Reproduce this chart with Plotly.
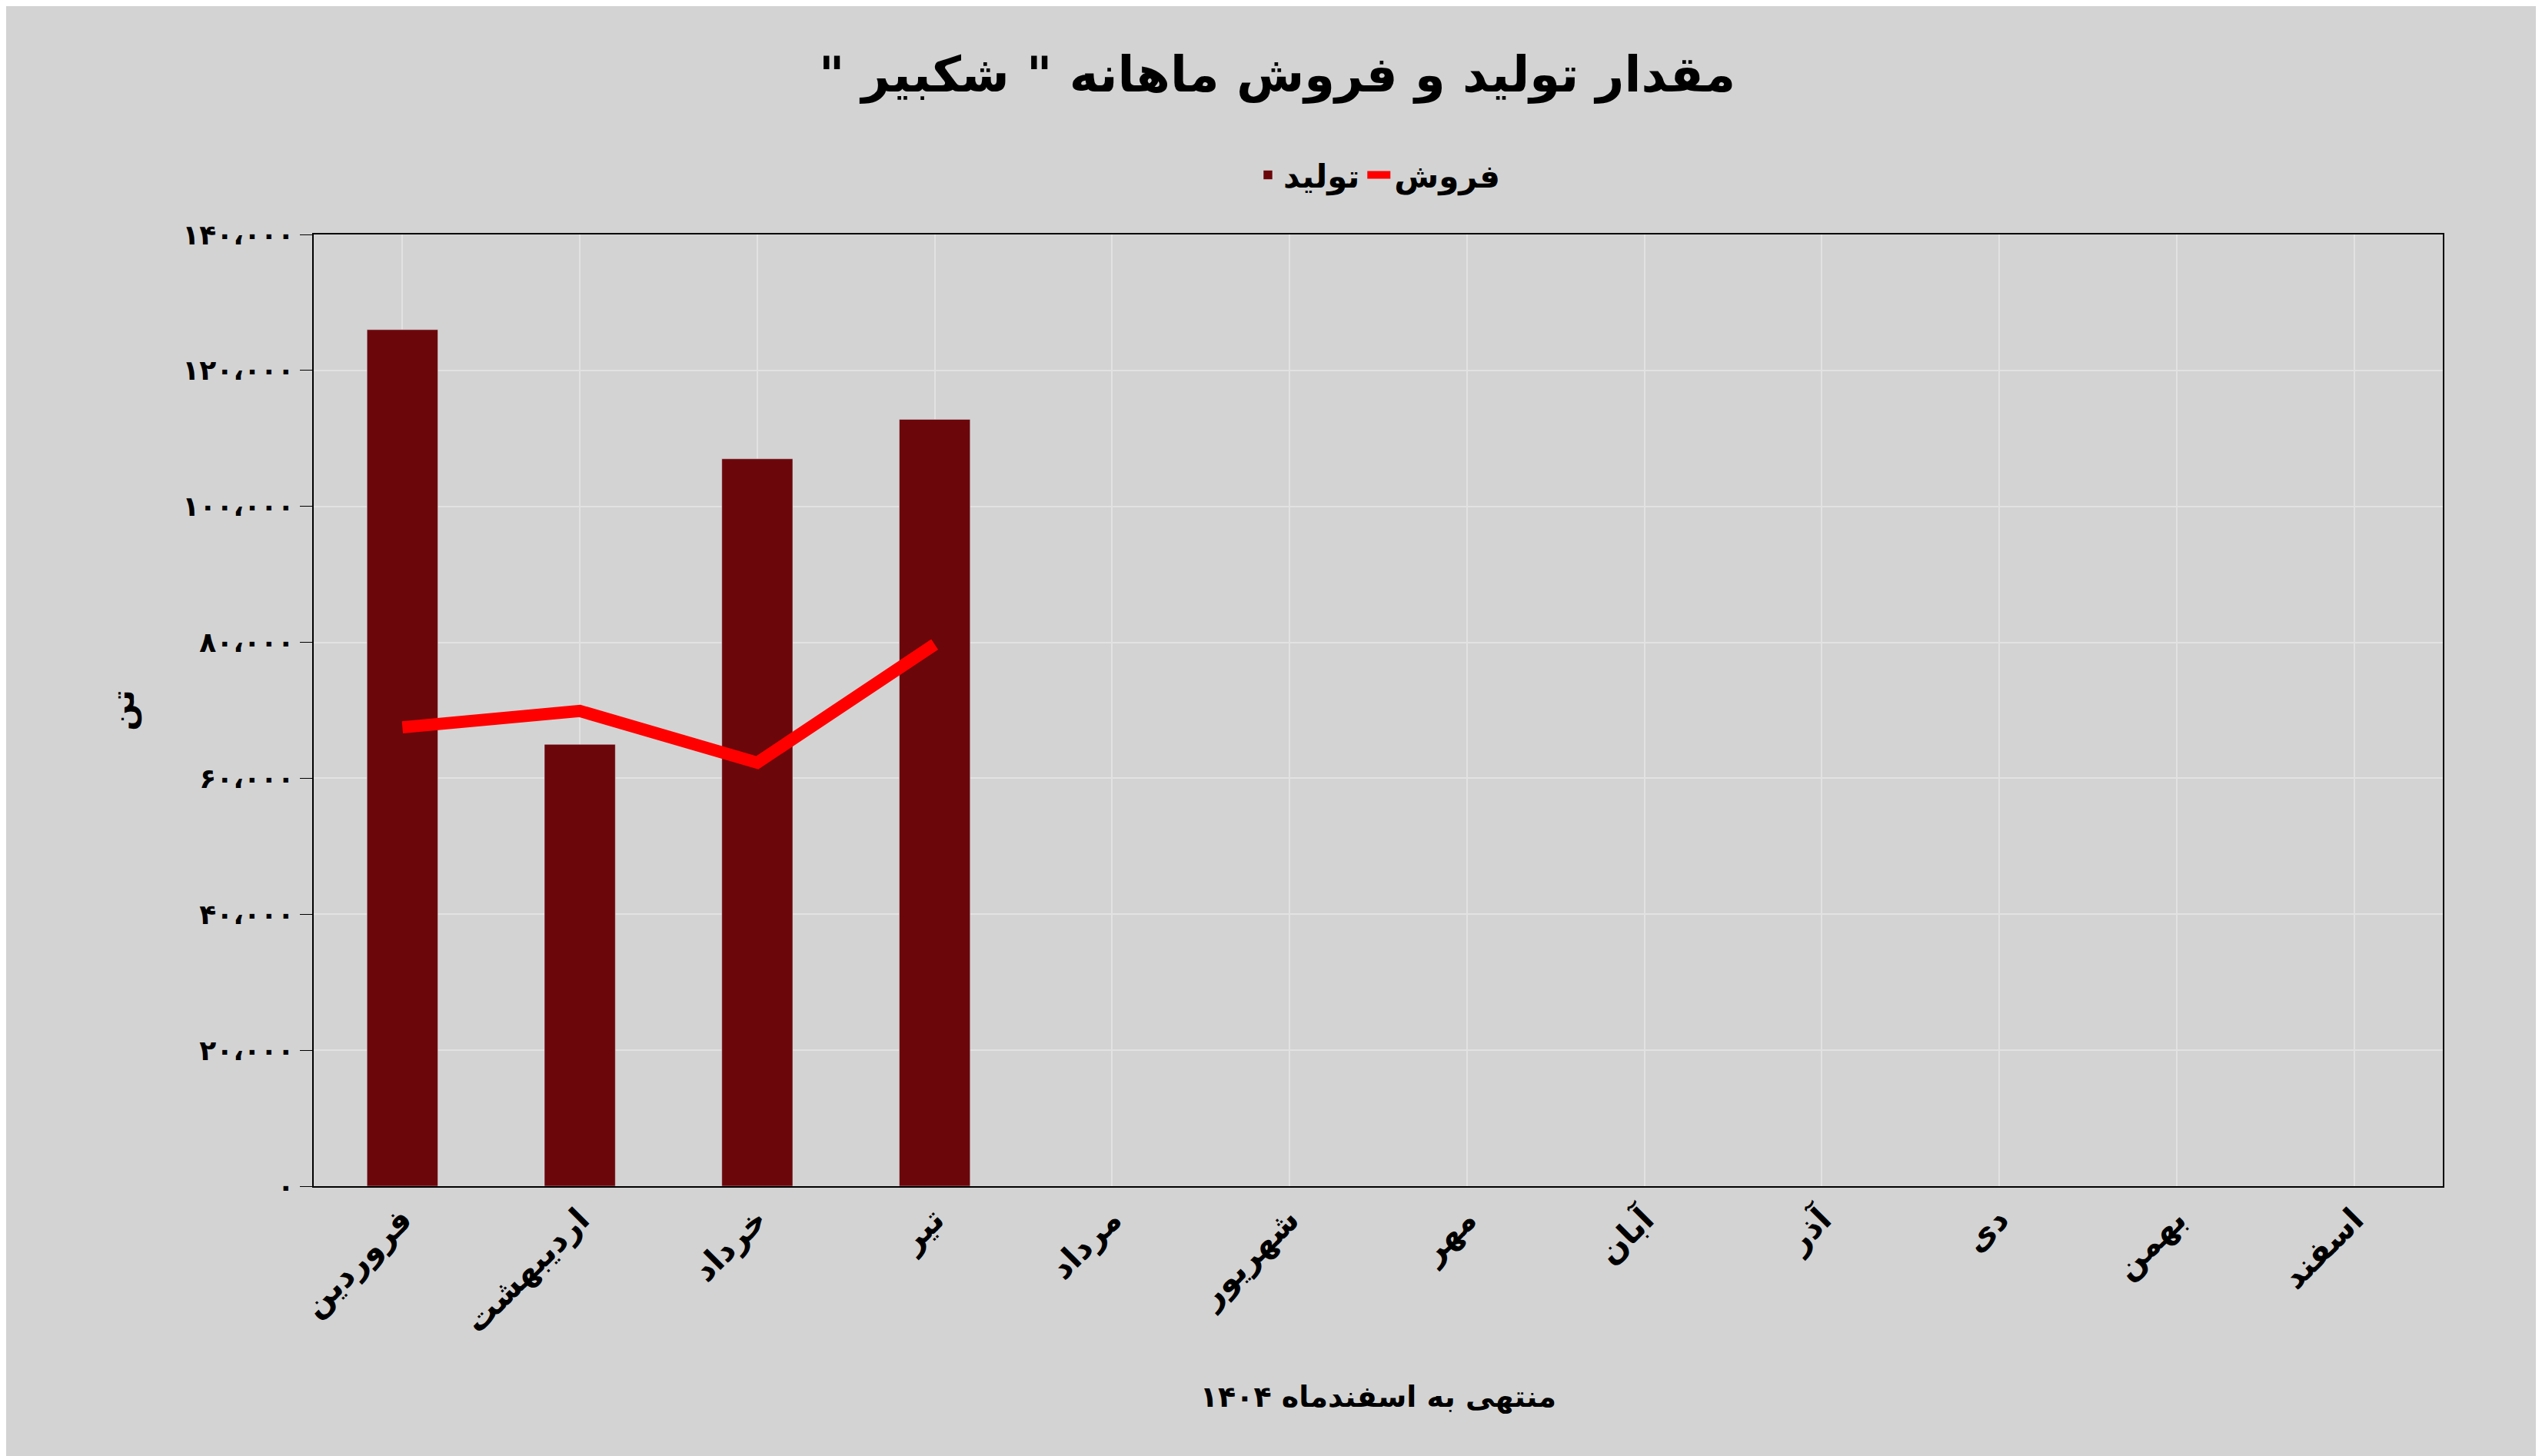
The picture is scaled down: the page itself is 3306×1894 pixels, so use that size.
import plotly.graph_objects as go

months = ["فروردین","اردیبهشت","خرداد","تیر","مرداد","شهریور","مهر","آبان","آذر","دی","بهمن","اسفند"]
production = [126000, 65000, 107000, 112800, None, None, None, None, None, None, None, None]
sales = [67500, 69900, 62300, 79700]
tick_vals = [0, 20000, 40000, 60000, 80000, 100000, 120000, 140000]
tick_text = ["۰","۲۰،۰۰۰","۴۰،۰۰۰","۶۰،۰۰۰","۸۰،۰۰۰","۱۰۰،۰۰۰","۱۲۰،۰۰۰","۱۴۰،۰۰۰"]

fig = go.Figure()
fig.add_trace(go.Bar(x=months, y=production, name="<b>تولید</b>", marker_color="#6b070b", width=0.4))
fig.add_trace(go.Scatter(x=months[:4], y=sales, name="<b>فروش</b>", mode="lines",
                         line=dict(color="#ff0000", width=16)))
font = "DejaVu Sans"
fig.update_layout(
    width=3306, height=1894,
    paper_bgcolor="#d3d3d3", plot_bgcolor="#d3d3d3",
    margin=dict(l=400, r=137, t=297, b=359),
    font=dict(family=font, color="#000", size=34),
    title=dict(text="<b>\u200fمقدار تولید و فروش ماهانه \" شکبیر \"\u200f</b>", x=0.5, y=0.965, yanchor="top",
               font=dict(size=64)),
    legend=dict(orientation="h", x=0.5, xanchor="center", y=1.035, yanchor="bottom",
                font=dict(size=42), bgcolor="rgba(0,0,0,0)", traceorder="normal"),
    showlegend=True,
)
fig.update_xaxes(tickangle=-45, tickfont=dict(size=42), showgrid=True, gridcolor="#e2e2e2", gridwidth=2,
                 showline=True, linecolor="#000", linewidth=2, mirror=True, ticks="",
                 tickprefix="<b>", ticksuffix="</b>",
                 title=dict(text="<b>منتهی به اسفندماه ۱۴۰۴</b>", font=dict(size=38), standoff=60))
fig.update_yaxes(range=[0, 140000], tickvals=tick_vals, ticktext=["<b>"+t+"</b>" for t in tick_text],
                 tickfont=dict(size=36),
                 showgrid=True, gridcolor="#e2e2e2", gridwidth=2, zeroline=False,
                 showline=True, linecolor="#000", linewidth=2, mirror=True,
                 ticks="outside", ticklen=16, tickcolor="#000",
                 title=dict(text="<b>تن</b>", font=dict(size=42), standoff=50))
fig.write_html("out.html")
